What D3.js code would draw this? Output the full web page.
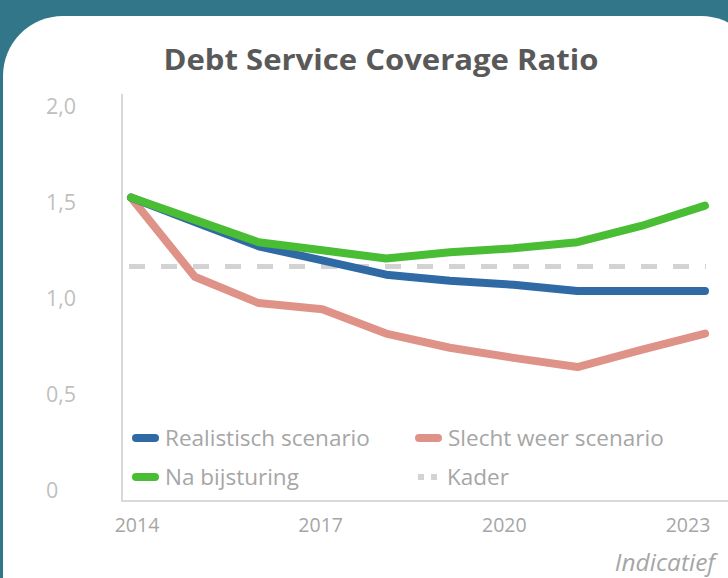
<!DOCTYPE html>
<html><head><meta charset="utf-8">
<script src="https://cdn.jsdelivr.net/npm/d3@7"></script>
<style>html,body{margin:0;padding:0;background:#327789;overflow:hidden}</style>
</head><body>
<script>
const years = [2014,2015,2016,2017,2018,2019,2020,2021,2022,2023];
const realistisch = [1.49,1.37,1.25,1.18,1.11,1.08,1.06,1.03,1.03,1.03];
const slechtWeer = [1.49,1.10,0.97,0.94,0.82,0.75,0.70,0.655,0.74,0.82];
const naBijsturing = [1.49,1.38,1.27,1.23,1.19,1.22,1.24,1.27,1.35,1.45];
const kader = 1.15;
const yTicks = [0,0.5,1.0,1.5,2.0];
const xTickYears = [2014,2017,2020,2023];
const seriesNames = ["Realistisch scenario","Slecht weer scenario","Na bijsturing","Kader"];
const colors = {blue:"#306aa5", red:"#df9288", green:"#49bd34", gray:"#d3d3d3"};

const W=728,H=578;
const svg=d3.select("body").append("svg").attr("width",W).attr("height",H);
svg.append("rect").attr("width",W).attr("height",H).attr("fill","#327789");
svg.append("rect").attr("x",3).attr("y",16).attr("width",758).attr("height",640).attr("rx",60).attr("ry",60).attr("fill","#fff");

const font="'Open Sans', Lato, sans-serif";
svg.append("text").attr("x",381).attr("y",70).attr("text-anchor","middle")
  .attr("font-family",font).attr("font-weight","bold").attr("font-size",28).attr("fill","#595959")
  .attr("textLength",435).attr("lengthAdjust","spacingAndGlyphs")
  .text("Debt Service Coverage Ratio");

const x=d3.scaleLinear().domain([2014,2023]).range([131,705]);
const y=d3.scaleLinear().domain([0,2]).range([500,94]);
const xLab=d3.scaleLinear().domain([2014,2023]).range([137,688]);
const yLab=d3.scaleLinear().domain([0,2]).range([490,106]);

// axes lines
svg.append("line").attr("x1",122).attr("x2",122).attr("y1",y(2)).attr("y2",y(0)+2).attr("stroke","#d9d9d9").attr("stroke-width",2);
svg.append("line").attr("x1",121).attr("x2",W).attr("y1",y(0)+1).attr("y2",y(0)+1).attr("stroke","#d9d9d9").attr("stroke-width",2);

// y labels
const fmt=v=>v===0?"0":d3.format(".1f")(v).replace(".",",");
svg.append("g").selectAll("text").data(yTicks).join("text")
  .attr("x",46).attr("y",d=>yLab(d)).attr("dy","0.35em")
  .attr("font-family",font).attr("font-size",21.5).attr("fill","#bfbfbf").text(fmt);
// x labels
svg.append("g").selectAll("text").data(xTickYears).join("text")
  .attr("x",d=>xLab(d)).attr("y",532).attr("text-anchor","middle")
  .attr("font-family",font).attr("font-size",19.5).attr("fill","#a6a6a6").text(d=>d);

// kader
svg.append("line").attr("x1",129).attr("x2",706).attr("y1",y(kader)).attr("y2",y(kader))
  .attr("stroke",colors.gray).attr("stroke-width",5).attr("stroke-dasharray","16,16");

const line=d3.line().x((d,i)=>x(years[i])).y(d=>y(d));
[[slechtWeer,colors.red],[realistisch,colors.blue],[naBijsturing,colors.green]].forEach(([s,c])=>{
  svg.append("path").attr("d",line(s)).attr("fill","none").attr("stroke",c)
    .attr("stroke-width",8).attr("stroke-linecap","round").attr("stroke-linejoin","round");
});

// legend
const leg=[{n:seriesNames[0],c:colors.blue,x:133,y:438},{n:seriesNames[1],c:colors.red,x:416,y:438},
           {n:seriesNames[2],c:colors.green,x:133,y:477},{n:seriesNames[3],c:colors.gray,x:416,y:477,dash:true}];
leg.forEach(l=>{
  if(l.dash){
    [0,13].forEach(o=>svg.append("rect").attr("x",l.x+2+o).attr("y",l.y-3).attr("width",6).attr("height",6).attr("fill",l.c));
  } else {
    svg.append("line").attr("x1",l.x+3).attr("x2",l.x+22).attr("y1",l.y).attr("y2",l.y)
      .attr("stroke",l.c).attr("stroke-width",8).attr("stroke-linecap","round");
  }
  svg.append("text").attr("x",l.x+(l.dash?31:32)).attr("y",l.y).attr("dy","0.35em")
    .attr("font-family",font).attr("font-size",22.5).attr("fill","#a6a6a6").text(l.n);
});

svg.append("text").attr("x",715).attr("y",571).attr("text-anchor","end")
  .attr("font-family",font).attr("font-style","italic").attr("font-size",24.5).attr("fill","#a6a6a6").text("Indicatief");
</script>
</body></html>
